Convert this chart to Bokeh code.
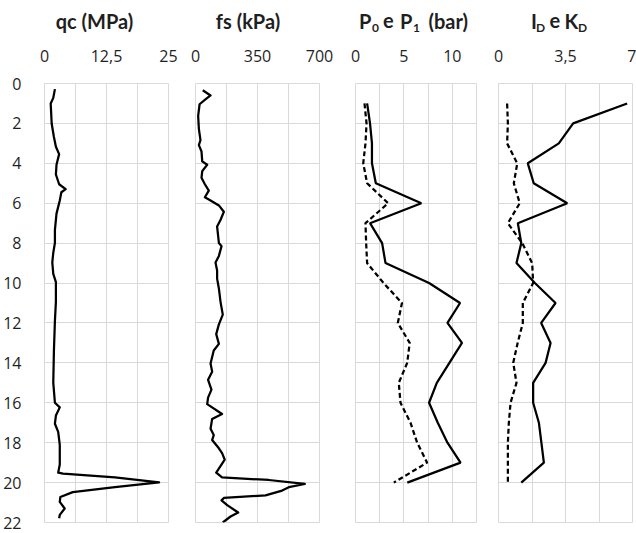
from bokeh.plotting import figure
from bokeh.layouts import row, column
from bokeh.models import Range1d, FixedTicker
from bokeh.core.properties import value
from bokeh.embed import file_html
from bokeh.resources import INLINE

# ---------------- data ----------------
qc_depth = [0.28, 0.72, 1.0, 2.02, 2.68, 3.17, 3.54, 4.07, 4.56, 5.05, 5.29, 5.45, 5.86,
            6.52, 7.33, 7.99, 8.48, 8.97, 9.54, 9.95, 10.93, 11.9, 13.38, 15.0, 16.0,
            16.23, 16.64, 17.05, 17.46, 18.11, 19.09, 19.5, 19.55, 19.74, 19.99, 20.23,
            20.48, 20.72, 20.97, 21.3, 21.62, 21.79]
qc_value = [2.1, 1.77, 1.25, 1.45, 1.9, 2.3, 2.95, 2.42, 2.3, 2.95, 4.27, 3.4, 3.08,
            2.42, 2.1, 2.1, 1.77, 1.57, 1.77, 2.3, 2.3, 2.1, 1.9, 1.77, 2.1,
            3.08, 2.3, 2.1, 2.76, 3.08, 3.08, 2.76, 3.74, 14.2, 23.1, 14.2,
            5.7, 3.2, 3.08, 4.07, 3.08, 2.95]

fs_depth = [0.34, 0.6, 0.8, 1.04, 1.62, 2.27, 2.84, 3.09, 3.41, 3.9, 4.07, 4.39, 4.72,
            5.05, 5.37, 5.7, 5.86, 6.11, 6.43, 6.84, 7.17, 7.66, 7.99, 8.15, 8.64, 8.97,
            9.37, 9.78, 10.27, 10.93, 11.58, 12.07, 12.56, 13.05, 13.38, 14.03, 14.44,
            14.85, 15.34, 15.74, 16.07, 16.56, 16.81, 17.3, 17.62, 17.87, 18.28, 18.52,
            18.85, 19.17, 19.5, 19.74, 19.87, 20.07, 20.23, 20.4, 20.64, 20.77, 20.89,
            21.13, 21.5, 21.7, 22.0]
fs_value = [41, 85, 56, 23, 15, 19, 28, 19, 34, 38, 66, 38, 34,
            53, 75, 53, 85, 132, 160, 141, 122, 128, 132, 147, 132, 113,
            122, 122, 132, 141, 154, 132, 117, 132, 103, 85, 94,
            71, 90, 71, 66, 150, 94, 85, 103, 94, 132, 150,
            165, 141, 117, 150, 414, 617, 527, 489, 395, 160, 147,
            179, 241, 198, 154]

dmt_depth = [1, 2, 3, 4, 5, 6, 7, 8, 9, 10, 11, 12, 13, 14, 15, 16, 17, 18, 19, 20]
p1_value = [1.2, 1.5, 1.7, 1.7, 2.1, 6.8, 1.5, 2.75, 3.1, 7.6, 10.8, 9.5, 11.0, 9.7,
            8.4, 7.6, 8.5, 9.5, 10.85, 5.35]
p0_value = [0.93, 1.14, 1.03, 0.8, 1.2, 3.37, 1.03, 1.1, 1.2, 2.9, 4.8, 4.37, 5.6, 5.34,
            4.47, 4.65, 5.68, 6.37, 7.4, 3.96]
id_value = [6.72, 3.9, 3.15, 1.53, 1.84, 3.59, 1.01, 1.19, 0.94, 1.9, 2.98, 2.23, 2.72,
            2.46, 1.81, 1.81, 2.11, 2.24, 2.37, 1.19]
kd_value = [0.45, 0.49, 0.45, 0.98, 0.8, 1.11, 0.49, 1.24, 1.76, 1.81, 1.27, 1.27, 1.0,
            0.77, 0.94, 0.63, 0.54, 0.49, 0.49, 0.49]

depth_ticks = [0, 2, 4, 6, 8, 10, 12, 14, 16, 18, 20, 22]
qc_ticks = [0, 12.5, 25]
qc_labels = ["0", "12,5", "25"]
fs_ticks = [0, 350, 700]
fs_labels = ["0", "350", "700"]
p_ticks = [0, 5, 10]
p_labels = ["0", "5", "10"]
dk_ticks = [0, 3.5, 7]
dk_labels = ["0", "3,5", "7"]

# titles: pieces (text, is_subscript)
title_qc = [("qc (MPa)", False)]
title_fs = [("fs (kPa)", False)]
title_p = [("P", False), ("0", True), ("e", False), ("P", False), ("1", True), ("(bar)", False)]
title_dk = [("I", False), ("D", True), ("e", False), ("K", False), ("D", True)]

# ---------------- styling / layout ----------------
W = 636
H = 533
TITLE_H = 46
PANEL_H = H - TITLE_H
TOP = 77 - TITLE_H
BOTTOM = 11
DMAX = 22
TXT = "#1f1f1f"
GRID = "#d9d9d9"
TFONT = "Open Sans"
HFONT = "Lato"


def make_panel(width, left, right, xmax, grid_step, ticks, labels, show_depth):
    p = figure(width=width, height=PANEL_H, output_backend="svg", toolbar_location=None,
               x_range=Range1d(0, xmax), y_range=Range1d(DMAX, 0),
               x_axis_location="above", y_axis_location="left",
               min_border_left=left, min_border_right=right,
               min_border_top=TOP, min_border_bottom=BOTTOM,
               background_fill_color="white", border_fill_color="white")
    p.outline_line_color = GRID
    p.outline_line_width = 1
    xa = p.xaxis[0]
    xa.ticker = FixedTicker(ticks=ticks)
    xa.major_label_overrides = {t: l for t, l in zip(ticks, labels)}
    xa.axis_line_color = None
    xa.major_tick_line_color = None
    xa.minor_tick_line_color = None
    xa.major_label_text_font = TFONT
    xa.major_label_text_font_size = "16px"
    xa.major_label_text_color = TXT
    xa.major_label_standoff = 16
    ya = p.yaxis[0]
    ya.ticker = FixedTicker(ticks=depth_ticks)
    ya.axis_line_color = None
    ya.major_tick_line_color = None
    ya.minor_tick_line_color = None
    ya.major_label_text_font = TFONT
    ya.major_label_text_font_size = "16px"
    ya.major_label_text_color = TXT
    ya.major_label_standoff = 17
    if not show_depth:
        ya.visible = False
    n = int(round(xmax / grid_step))
    p.xgrid.ticker = FixedTicker(ticks=[grid_step * i for i in range(n + 1)])
    p.ygrid.ticker = FixedTicker(ticks=depth_ticks)
    p.xgrid.grid_line_color = GRID
    p.ygrid.grid_line_color = GRID
    return p


p1 = make_panel(181, 41, 13, 25, 6.25, qc_ticks, qc_labels, True)
p1.line(qc_value, qc_depth, line_color="black", line_width=2.25, line_join="round")

p2 = make_panel(156, 14, 18, 700, 175, fs_ticks, fs_labels, False)
p2.line(fs_value, fs_depth, line_color="black", line_width=2.25, line_join="round")

p3 = make_panel(150, 18, 11, 12.5, 2.5, p_ticks, p_labels, False)
p3.line(p1_value, dmt_depth, line_color="black", line_width=2.25)
p3.line(p0_value, dmt_depth, line_color="black", line_width=2.25, line_dash="5 3")

p4 = make_panel(149, 11, 4, 7, 1.75, dk_ticks, dk_labels, False)
p4.line(id_value, dmt_depth, line_color="black", line_width=2.25)
p4.line(kd_value, dmt_depth, line_color="black", line_width=2.25, line_dash="5 3")

# title strip (page-pixel coordinates)
t = figure(width=W, height=TITLE_H, output_backend="svg", toolbar_location=None,
           x_range=Range1d(0, W), y_range=Range1d(TITLE_H, 0),
           min_border=0, x_axis_location=None, y_axis_location=None,
           background_fill_color="white", border_fill_color="white")
t.outline_line_color = None
t.xgrid.visible = False
t.ygrid.visible = False

MID = 20       # vertical middle of the main title text
SUB_MID = 27   # vertical middle of subscripts
title_specs = [
    (title_qc, [94], "center"),
    (title_fs, [247.5], "center"),
    (title_p, [358.5, 371.5, 382.5, 399.5, 412.5, 428.0], "left"),
    (title_dk, [530.5, 535.5, 549.0, 564.0, 577.5], "left"),
]
for pieces, xs, align in title_specs:
    for (txt, sub), x in zip(pieces, xs):
        t.text(x=[x], y=[SUB_MID if sub else MID], text=[txt],
               text_font=value(HFONT), text_font_size="12px" if sub else "20px",
               text_font_style="bold", text_color=TXT,
               text_align=align, text_baseline="middle")

layout = column(t, row(p1, p2, p3, p4))
open("out.html", "w").write(file_html(layout, INLINE))
